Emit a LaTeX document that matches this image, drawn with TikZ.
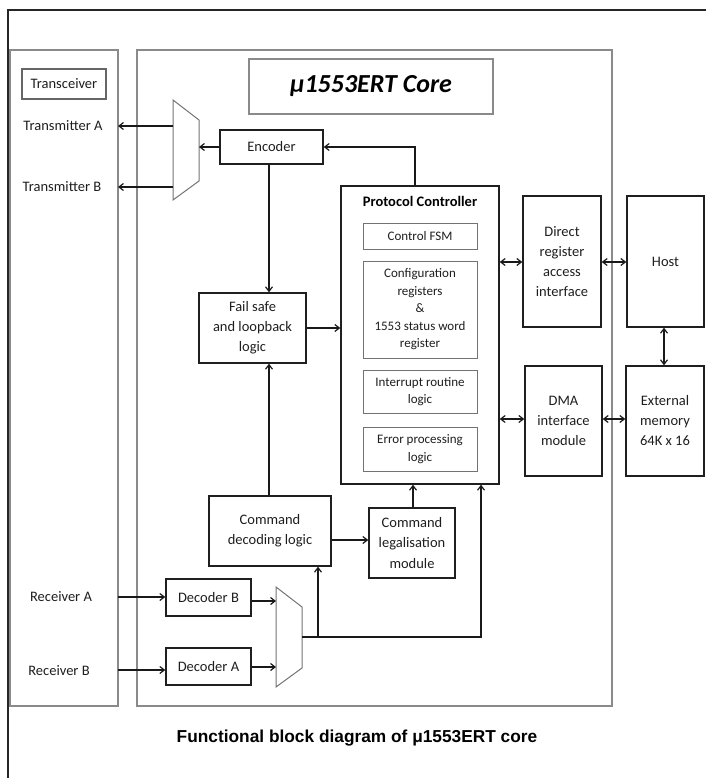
\documentclass[tikz,border=0pt]{standalone}
\usepackage{fontspec}
\setmainfont{Carlito}
\newfontfamily\capfont{Liberation Sans}
\usetikzlibrary{arrows.meta}
\definecolor{txt}{HTML}{1E1E1E}
\definecolor{panel}{HTML}{8A8A8A}
\begin{document}
\begin{tikzpicture}[x=1pt,y=-1pt,
  >={Straight Barb[length=4.5pt,width=7pt]},
  box/.style={draw=black!88, line width=1.5pt, align=center, text=txt, font=\fontsize{14.5}{17}\selectfont, inner sep=1pt},
  ibox/.style={draw=black!55, line width=1pt, align=center, text=txt, font=\fontsize{13}{17.5}\selectfont, inner sep=1pt, minimum width=114pt},
  pnl/.style={draw=panel, line width=1.3pt},
  lbl/.style={text=txt, font=\fontsize{14.5}{17}\selectfont},
  conn/.style={draw=black!90, line width=1.2pt},
  muxs/.style={draw=black!55, line width=1pt}]
\useasboundingbox (0,0) rectangle (706,778);
% outer frame
\draw[line width=2.5pt, draw=black!85] (706,10) -- (8,10) -- (8,778);
% panels
\draw[pnl] (10,50) rectangle (118,706);
\draw[pnl] (137,50) rectangle (612,706);
% title
\node[draw=panel, line width=1.2pt, minimum width=244pt, minimum height=55pt, text=black, font=\fontsize{26}{30}\selectfont\bfseries\itshape] (title) at (371,86.5) {μ1553ERT Core};
% transceiver
\node[draw=black!60, line width=1.2pt, minimum width=84pt, minimum height=30pt, text=txt, font=\fontsize{14.5}{17}\selectfont, inner sep=1pt] (trx) at (64,84) {Transceiver};
\node[lbl] (txa) at (63,126) {Transmitter A};
\node[lbl] (txb) at (62,187) {Transmitter B};
\node[lbl] (rxa) at (61,597) {Receiver A};
\node[lbl] (rxb) at (59,671) {Receiver B};
% boxes
\node[box, minimum width=103pt, minimum height=34pt] (enc) at (271.5,147) {Encoder};
\node[box, minimum width=158pt, minimum height=298pt] (pc) at (420,335) {};
\node[text=black, font=\fontsize{14.5}{17}\selectfont\bfseries] (pct) at (420,201) {Protocol Controller};
\node[ibox, minimum height=26pt] (fsm) at (420,236) {Control FSM};
\node[ibox, minimum height=97pt] (cfg) at (420,309.5) {Configuration\\registers\\\&\\1553 status word\\register};
\node[ibox, minimum height=43pt] (irq) at (420,391.5) {Interrupt routine\\logic};
\node[ibox, minimum height=44pt] (err) at (420,449) {Error processing\\logic};
\node[box, minimum width=107pt, minimum height=70pt, font=\fontsize{14.5}{20}\selectfont] (fs) at (252.5,328) {Fail safe\\and loopback\\logic};
\node[box, minimum width=78pt, minimum height=131pt, font=\fontsize{14.5}{20}\selectfont] (dra) at (562,261.5) {Direct\\register\\access\\interface};
\node[box, minimum width=77pt, minimum height=131pt] (host) at (665.5,261.5) {Host};
\node[box, minimum width=77pt, minimum height=110pt, font=\fontsize{14.5}{20}\selectfont] (dma) at (563.5,421) {DMA\\interface\\module};
\node[box, minimum width=78pt, minimum height=110pt, font=\fontsize{14.5}{20}\selectfont] (mem) at (665,421) {External\\memory\\64K x 16};
\node[box, minimum width=122pt, minimum height=70pt, font=\fontsize{14.5}{20}\selectfont] (cdl) at (270,531) {Command\\decoding logic};
\node[box, minimum width=86pt, minimum height=70pt, font=\fontsize{14.5}{20.5}\selectfont] (clm) at (412,543) {Command\\legalisation\\module};
\node[box, minimum width=85pt, minimum height=37pt] (decb) at (208.5,597.5) {Decoder B};
\node[box, minimum width=85pt, minimum height=37pt] (deca) at (208.5,666.5) {Decoder A};
% muxes
\draw[muxs] (173,100) -- (199,120) -- (199,181) -- (173,200) -- cycle;
\draw[muxs] (276,587) -- (302,607) -- (302,668) -- (276,687) -- cycle;
\coordinate (mtA) at (173,126);
\coordinate (mtB) at (173,187);
\coordinate (mtR) at (199,147);
\coordinate (pA) at (118,126);
\coordinate (pB) at (118,187);
\coordinate (rA) at (118,597);
\coordinate (rB) at (118,670);
\coordinate (mrB) at (276,601);
\coordinate (mrA) at (276,667);
\coordinate (mro) at (302,637);
\coordinate (br1) at (318,637);
\coordinate (br2) at (481,637);
% connectors
\draw[conn,->] (mtA) -- (pA);
\draw[conn,->] (mtB) -- (pB);
\draw[conn,->] (enc.west) -- (mtR);
\draw[conn,->] (415,186) |- (enc.east);
\draw[conn,->] (enc.south -| 269,0) -- (fs.north -| 269,0);
\draw[conn,->] (cdl.north -| 269,0) -- (fs.south -| 269,0);
\draw[conn,->] (fs.east) -- (fs.east -| pc.west);
\draw[conn,<->] (pc.east |- 0,262) -- (dra.west |- 0,262);
\draw[conn,<->] (dra.east |- 0,262) -- (host.west |- 0,262);
\draw[conn,<->] (pc.east |- 0,419) -- (dma.west |- 0,419);
\draw[conn,<->] (dma.east |- 0,419) -- (mem.west |- 0,419);
\draw[conn,<->] (host.south -| 664,0) -- (mem.north -| 664,0);
\draw[conn,->] (cdl.east |- 0,540) -- (clm.west |- 0,540);
\draw[conn,->] (clm.north -| 413,0) -- (pc.south -| 413,0);
\draw[conn,->] (rA) -- (decb.west |- rA);
\draw[conn,->] (rB) -- (deca.west |- rB);
\draw[conn,->] (decb.east |- mrB) -- (mrB);
\draw[conn,->] (deca.east |- mrA) -- (mrA);
\draw[conn,->] (mro) -- (br2) -- (pc.south -| br2);
\draw[conn,->] (br1) -- (cdl.south -| br1);
% caption
\node[font=\capfont\fontsize{17.3}{20}\selectfont\bfseries, text=black] (cap) at (357,738) {Functional block diagram of μ1553ERT core};
\end{tikzpicture}
\end{document}
